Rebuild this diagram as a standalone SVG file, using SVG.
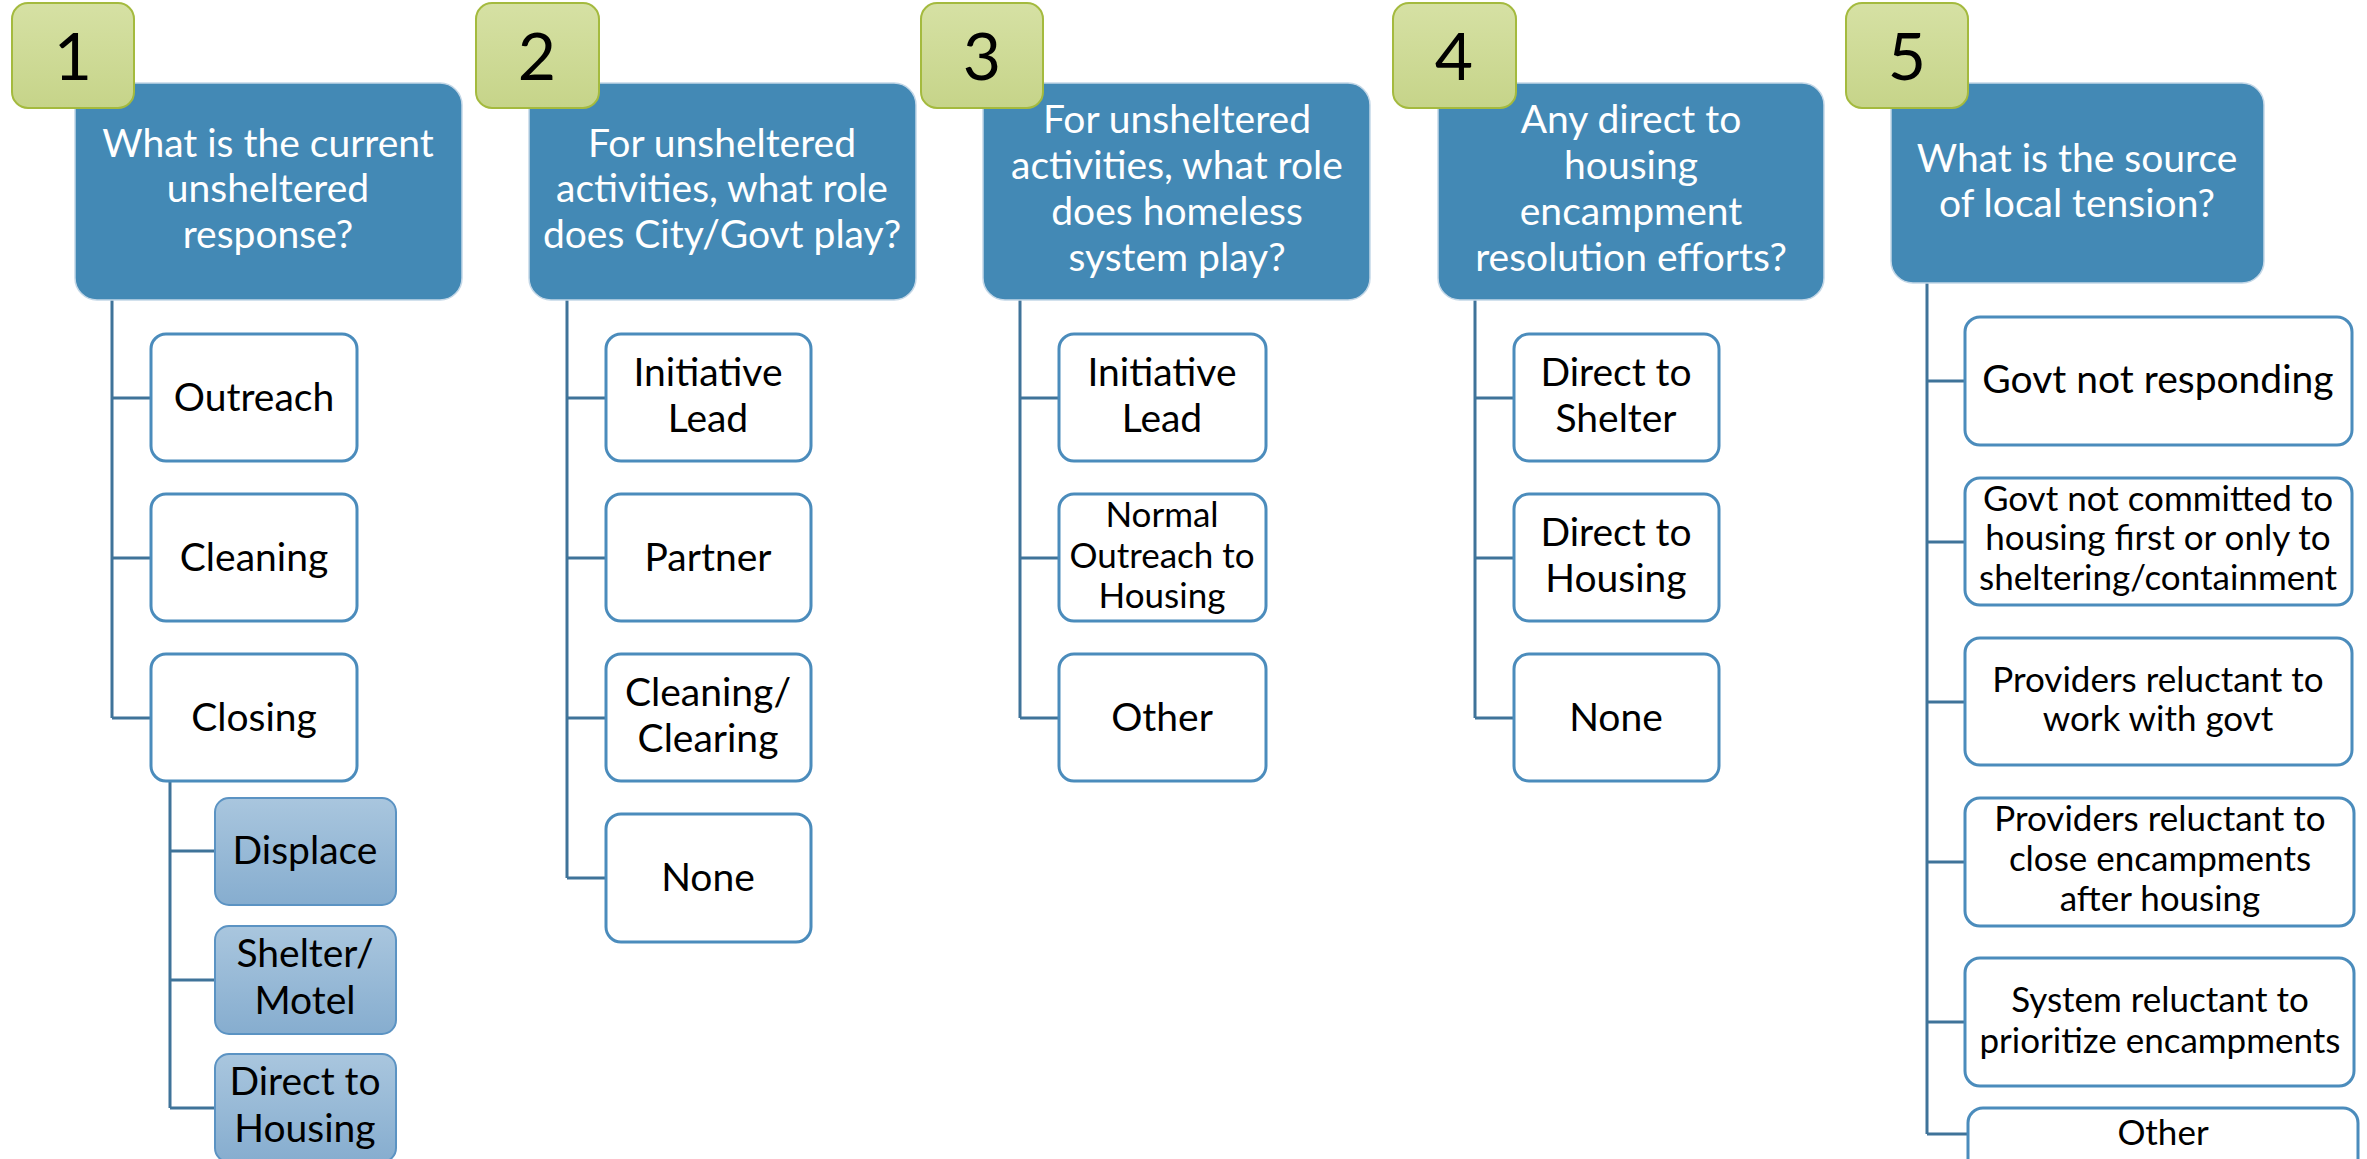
<svg xmlns="http://www.w3.org/2000/svg" width="2367" height="1159" viewBox="0 0 2367 1159">
  <defs>
    <linearGradient id="tabFill" x1="0" y1="0" x2="0" y2="1">
      <stop offset="0" stop-color="#d6e1a4"/>
      <stop offset="1" stop-color="#c6d489"/>
    </linearGradient>
    <linearGradient id="subFill" x1="0" y1="0" x2="0" y2="1">
      <stop offset="0" stop-color="#a9c6de"/>
      <stop offset="1" stop-color="#86adcf"/>
    </linearGradient>
    <style>
      .head { fill: #4389b5; stroke: #c3d7e7; stroke-width: 1.5; }
      .tab { fill: url(#tabFill); stroke: #a4ba3e; stroke-width: 2; }
      .item { fill: #ffffff; stroke: #4b8cbc; stroke-width: 3; }
      .sub { fill: url(#subFill); stroke: #5b93c3; stroke-width: 2; }
      .link { fill: none; stroke: #3f7399; stroke-width: 3; }
      text { font-family: Lato, "Liberation Sans", sans-serif; text-anchor: middle; }
      .num { font-size: 66px; fill: #000000; }
      .ht { font-size: 39px; fill: #ffffff; }
      .it { font-size: 39px; fill: #000000; }
      .st { font-size: 35px; fill: #000000; }
    </style>
  </defs>

  <!-- connectors -->
  <g id="connectors" class="link">
    <path d="M112 300 V718 M112 398 H151 M112 558 H151 M112 718 H151"/>
    <path d="M170 782 V1108 M170 851 H215 M170 980 H215 M170 1108 H215"/>
    <path d="M567 300 V878 M567 398 H606 M567 558 H606 M567 718 H606 M567 878 H606"/>
    <path d="M1020 300 V718 M1020 398 H1059 M1020 558 H1059 M1020 718 H1059"/>
    <path d="M1475 300 V718 M1475 398 H1514 M1475 558 H1514 M1475 718 H1514"/>
    <path d="M1927 283 V1134 M1927 381 H1965 M1927 542 H1965 M1927 702 H1965 M1927 862 H1965 M1927 1022 H1965 M1927 1134 H1968"/>
  </g>

  <!-- column 1 -->
  <g id="q1">
    <rect class="head" x="75" y="83" width="387" height="217" rx="22"/>
    <text class="ht" x="268" y="157">What is the current</text>
    <text class="ht" x="268" y="202">unsheltered</text>
    <text class="ht" x="268" y="248">response?</text>
  </g>
  <g id="tab1">
    <rect class="tab" x="12" y="3" width="122" height="105" rx="16"/>
    <text class="num" x="73" y="80">1</text>
  </g>
  <g id="q1-outreach">
    <rect class="item" x="151" y="334" width="206" height="127" rx="15"/>
    <text class="it" x="254" y="411">Outreach</text>
  </g>
  <g id="q1-cleaning">
    <rect class="item" x="151" y="494" width="206" height="127" rx="15"/>
    <text class="it" x="254" y="571">Cleaning</text>
  </g>
  <g id="q1-closing">
    <rect class="item" x="151" y="654" width="206" height="127" rx="15"/>
    <text class="it" x="254" y="731">Closing</text>
  </g>
  <g id="q1-displace">
    <rect class="sub" x="215" y="798" width="181" height="107" rx="14"/>
    <text class="it" x="305" y="864">Displace</text>
  </g>
  <g id="q1-shelter">
    <rect class="sub" x="215" y="926" width="181" height="108" rx="14"/>
    <text class="it" x="305" y="967">Shelter/</text>
    <text class="it" x="305" y="1014">Motel</text>
  </g>
  <g id="q1-housing">
    <rect class="sub" x="215" y="1054" width="181" height="108" rx="14"/>
    <text class="it" x="305" y="1095">Direct to</text>
    <text class="it" x="305" y="1142">Housing</text>
  </g>

  <!-- column 2 -->
  <g id="q2">
    <rect class="head" x="529" y="83" width="387" height="217" rx="22"/>
    <text class="ht" x="722" y="157">For unsheltered</text>
    <text class="ht" x="722" y="202">activities, what role</text>
    <text class="ht" x="722" y="248">does City/Govt play?</text>
  </g>
  <g id="tab2">
    <rect class="tab" x="476" y="3" width="123" height="105" rx="16"/>
    <text class="num" x="537" y="80">2</text>
  </g>
  <g id="q2-lead">
    <rect class="item" x="606" y="334" width="205" height="127" rx="15"/>
    <text class="it" x="708" y="386">Initiative</text>
    <text class="it" x="708" y="432">Lead</text>
  </g>
  <g id="q2-partner">
    <rect class="item" x="606" y="494" width="205" height="127" rx="15"/>
    <text class="it" x="708" y="571">Partner</text>
  </g>
  <g id="q2-clearing">
    <rect class="item" x="606" y="654" width="205" height="127" rx="15"/>
    <text class="it" x="708" y="706">Cleaning/</text>
    <text class="it" x="708" y="752">Clearing</text>
  </g>
  <g id="q2-none">
    <rect class="item" x="606" y="814" width="205" height="128" rx="15"/>
    <text class="it" x="708" y="891">None</text>
  </g>

  <!-- column 3 -->
  <g id="q3">
    <rect class="head" x="983" y="83" width="387" height="217" rx="22"/>
    <text class="ht" x="1177" y="133">For unsheltered</text>
    <text class="ht" x="1177" y="179">activities, what role</text>
    <text class="ht" x="1177" y="225">does homeless</text>
    <text class="ht" x="1177" y="271">system play?</text>
  </g>
  <g id="tab3">
    <rect class="tab" x="921" y="3" width="122" height="105" rx="16"/>
    <text class="num" x="982" y="80">3</text>
  </g>
  <g id="q3-lead">
    <rect class="item" x="1059" y="334" width="207" height="127" rx="15"/>
    <text class="it" x="1162" y="386">Initiative</text>
    <text class="it" x="1162" y="432">Lead</text>
  </g>
  <g id="q3-normal">
    <rect class="item" x="1059" y="494" width="207" height="127" rx="15"/>
    <text class="st" x="1162" y="527">Normal</text>
    <text class="st" x="1162" y="568">Outreach to</text>
    <text class="st" x="1162" y="608">Housing</text>
  </g>
  <g id="q3-other">
    <rect class="item" x="1059" y="654" width="207" height="127" rx="15"/>
    <text class="it" x="1162" y="731">Other</text>
  </g>

  <!-- column 4 -->
  <g id="q4">
    <rect class="head" x="1438" y="83" width="386" height="217" rx="22"/>
    <text class="ht" x="1631" y="133">Any direct to</text>
    <text class="ht" x="1631" y="179">housing</text>
    <text class="ht" x="1631" y="225">encampment</text>
    <text class="ht" x="1631" y="271">resolution efforts?</text>
  </g>
  <g id="tab4">
    <rect class="tab" x="1393" y="3" width="123" height="105" rx="16"/>
    <text class="num" x="1454" y="80">4</text>
  </g>
  <g id="q4-shelter">
    <rect class="item" x="1514" y="334" width="205" height="127" rx="15"/>
    <text class="it" x="1616" y="386">Direct to</text>
    <text class="it" x="1616" y="432">Shelter</text>
  </g>
  <g id="q4-housing">
    <rect class="item" x="1514" y="494" width="205" height="127" rx="15"/>
    <text class="it" x="1616" y="546">Direct to</text>
    <text class="it" x="1616" y="592">Housing</text>
  </g>
  <g id="q4-none">
    <rect class="item" x="1514" y="654" width="205" height="127" rx="15"/>
    <text class="it" x="1616" y="731">None</text>
  </g>

  <!-- column 5 -->
  <g id="q5">
    <rect class="head" x="1891" y="83" width="373" height="200" rx="22"/>
    <text class="ht" x="2077" y="172">What is the source</text>
    <text class="ht" x="2077" y="217">of local tension?</text>
  </g>
  <g id="tab5">
    <rect class="tab" x="1846" y="3" width="122" height="105" rx="16"/>
    <text class="num" x="1907" y="80">5</text>
  </g>
  <g id="q5-responding">
    <rect class="item" x="1965" y="317" width="387" height="128" rx="15"/>
    <text class="it" x="2158" y="393">Govt not responding</text>
  </g>
  <g id="q5-committed">
    <rect class="item" x="1965" y="478" width="387" height="127" rx="15"/>
    <text class="st" x="2158" y="511">Govt not committed to</text>
    <text class="st" x="2158" y="550">housing first or only to</text>
    <text class="st" x="2158" y="590">sheltering/containment</text>
  </g>
  <g id="q5-work">
    <rect class="item" x="1965" y="638" width="387" height="127" rx="15"/>
    <text class="st" x="2158" y="692">Providers reluctant to</text>
    <text class="st" x="2158" y="731">work with govt</text>
  </g>
  <g id="q5-close">
    <rect class="item" x="1965" y="798" width="389" height="128" rx="15"/>
    <text class="st" x="2160" y="831">Providers reluctant to</text>
    <text class="st" x="2160" y="871">close encampments</text>
    <text class="st" x="2160" y="911">after housing</text>
  </g>
  <g id="q5-system">
    <rect class="item" x="1965" y="958" width="389" height="128" rx="15"/>
    <text class="st" x="2160" y="1012">System reluctant to</text>
    <text class="st" x="2160" y="1053">prioritize encampments</text>
  </g>
  <g id="q5-other">
    <rect class="item" x="1968" y="1108" width="390" height="128" rx="15"/>
    <text class="st" x="2163" y="1145">Other</text>
  </g>
</svg>
